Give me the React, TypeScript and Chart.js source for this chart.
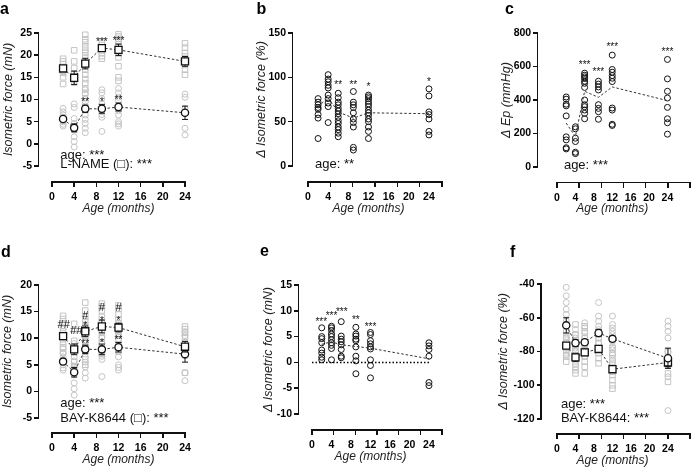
import React, { useEffect, useRef } from 'react';
import { Chart, registerables } from 'chart.js';

Chart.register(...registerables);

const FONT = "'Liberation Sans', Arial, Helvetica, sans-serif";
const GREY = '#c4c4c4';
const INK = '#111111';

// ---------- shared categories ----------
const AGES = [2, 4, 6, 9, 12, 24];
const X_TICKS = [0, 4, 8, 12, 16, 20, 24];
const X_TITLE = 'Age (months)';

// ---------- control group (circles) shared by a and d ----------
const CTRL_MEAN = [5.6, 3.6, 7.9, 7.9, 8.3, 7.0];
const CTRL_SEM = [0.5, 0.9, 0.8, 1.0, 0.9, 1.5];
const CTRL_POINTS = [
  [8.0, 7.2, 6.5, 6.0, 5.0, 4.4, 4.0],
  [9.0, 8.2, 5.7, 4.6, 3.1, 1.6, 0.5, -0.7],
  [12.2, 11.3, 10.3, 9.5, 8.5, 7.6, 6.5, 5.5, 4.6, 3.5, 2.5],
  [12.2, 11.5, 10.2, 9.0, 8.1, 7.3, 6.6, 6.0, 2.8],
  [12.5, 11.5, 10.5, 9.8, 8.5, 7.5, 6.5, 5.0, 4.5, 4.0],
  [11.2, 10.5, 8.0, 3.5, 2.0],
];

// ---------- panel a ----------
const A_Y_TICKS = [-5, 0, 5, 10, 15, 20, 25];
const A_LNAME_MEAN = [17.0, 14.9, 18.1, 21.6, 21.2, 18.6];
const A_LNAME_SEM = [0.6, 1.5, 1.2, 0.5, 1.3, 1.1];
const A_LNAME_POINTS = [
  [19.2, 18.6, 18.0, 17.2, 16.5, 16.0, 15.0, 13.5],
  [21.1, 18.6, 17.1, 15.8, 14.5, 13.8],
  [24.6, 23.6, 22.9, 22.0, 21.2, 20.5, 19.6, 18.6, 17.6, 16.7, 15.6, 14.6, 13.7, 12.5, 11.5],
  [23.0, 22.3, 21.5, 20.5, 19.8, 19.2],
  [24.7, 24.2, 23.7, 23.2, 22.5, 21.8, 20.5, 19.5, 17.5, 15.0, 14.2],
  [22.7, 21.7, 20.5, 19.7, 18.5, 17.8, 16.7, 15.6],
];
const A_NOTES = [
  { x: 9, y: 23.7, t: '***' },
  { x: 12, y: 23.9, t: '***' },
  { x: 6, y: 10.1, t: '**' },
  { x: 9, y: 10.1, t: '*' },
  { x: 12, y: 10.5, t: '**' },
];
const A_STATS = [
  { x: 1.5, y: -2.4, t: 'age: ***' },
  { x: 1.5, y: -4.6, t: 'L-NAME (\u25A1): ***' },
];

// ---------- panel b ----------
const B_Y_TICKS = [0, 50, 100, 150];
const B_MEAN = [67, 77, 61, 54, 60, 59];
const B_POINTS = [
  [76, 72, 69, 66, 64, 58, 54, 31],
  [103, 98, 95, 91, 88, 80, 76, 71, 67, 49],
  [82, 77, 72, 69, 65, 62, 59, 55, 51, 48, 44, 41, 37, 33],
  [84, 72, 69, 66, 60, 53, 49, 44, 21, 18],
  [80, 78, 76, 73, 70, 67, 63, 60, 57, 53, 50, 44, 39, 31],
  [87, 79, 61, 58, 53, 39, 35],
];
const B_NOTES = [
  { x: 6, y: 94, t: '**' },
  { x: 9, y: 94, t: '**' },
  { x: 12, y: 92, t: '*' },
  { x: 24, y: 98, t: '*' },
];
const B_STATS = [{ x: 1.4, y: 3, t: 'age: **' }];

// ---------- panel c ----------
const C_Y_TICKS = [0, 200, 400, 600, 800];
const C_MEAN = [262, 182, 452, 416, 478, 396];
const C_POINTS = [
  [418, 405, 375, 365, 305, 180, 162, 115, 108],
  [240, 228, 172, 152, 88, 80],
  [560, 548, 538, 528, 512, 500, 475, 400, 372, 360, 340, 320, 288],
  [512, 495, 478, 460, 372, 350, 330, 285],
  [668, 582, 566, 546, 530, 510, 352, 340, 255, 248],
  [642, 526, 452, 412, 356, 288, 264, 196],
];
const C_NOTES = [
  { x: 6, y: 626, t: '***' },
  { x: 9, y: 584, t: '***' },
  { x: 12, y: 734, t: '***' },
  { x: 24, y: 706, t: '***' },
];
const C_STATS = [{ x: 1.5, y: 16, t: 'age: ***' }];

// ---------- panel d ----------
const D_Y_TICKS = [-5, 0, 5, 10, 15, 20];
const D_BAY_MEAN = [10.4, 7.9, 11.3, 12.2, 12.0, 8.4];
const D_BAY_SEM = [0.5, 1.0, 1.0, 1.2, 0.8, 1.0];
const D_BAY_POINTS = [
  [14.2, 13.6, 12.8, 12.0, 11.3, 10.6, 9.8, 9.0, 8.3, 7.3],
  [12.7, 11.5, 9.5, 8.5, 7.5, 6.5, 5.5, 4.8, 4.2],
  [16.7, 15.2, 14.0, 13.2, 12.5, 12.0, 11.2, 10.5, 9.5, 8.5, 7.5, 6.0, 5.0],
  [16.5, 16.0, 15.2, 14.0, 13.0, 12.0, 11.0, 10.0, 9.0, 8.0, 7.0],
  [16.2, 15.5, 14.5, 13.5, 12.8, 12.0, 11.2, 10.5, 9.5, 8.8, 7.5],
  [12.2, 11.7, 11.0, 10.2, 9.2, 8.2, 7.5, 6.8, 3.5],
];
const D_NOTES = [
  { x: 2.1, y: 12.7, t: '##' },
  { x: 4.4, y: 11.5, t: '##' },
  { x: 6, y: 14.4, t: '#' },
  { x: 6, y: 12.8, t: '*' },
  { x: 6, y: 9.4, t: '**' },
  { x: 9, y: 15.8, t: '#' },
  { x: 9, y: 13.75, t: '*' },
  { x: 9, y: 9.6, t: '*' },
  { x: 12, y: 15.8, t: '#' },
  { x: 12, y: 13.75, t: '*' },
  { x: 12, y: 10.1, t: '**' },
];
const D_STATS = [
  { x: 1.5, y: -2.2, t: 'age: ***' },
  { x: 1.5, y: -4.9, t: 'BAY-K8644 (\u25A1): ***' },
];

// ---------- panel e ----------
const E_Y_TICKS = [-10, -5, 0, 5, 10, 15];
const E_MEAN = [3.5, 4.0, 3.4, 3.1, 2.75, 0.7];
const E_POINTS = [
  [6.7, 5.0, 4.6, 3.8, 2.4, 1.8, 1.0, 0.5],
  [7.0, 6.7, 6.2, 5.5, 5.0, 4.4, 3.8, 3.3, 2.7, 0.5],
  [7.9, 5.1, 4.5, 4.0, 3.4, 2.5, 1.2, 0.9],
  [6.8, 5.5, 5.1, 4.5, 4.2, 3.0, 1.2, 0.3, -2.2],
  [5.8, 5.4, 4.2, 3.6, 3.0, 2.6, 0.5, -0.6, -3.0],
  [3.8, 3.2, 2.5, 1.2, -3.9, -4.5],
];
const E_NOTES = [
  { x: 1.9, y: 8.4, t: '***' },
  { x: 4.0, y: 9.5, t: '***' },
  { x: 6.1, y: 10.3, t: '***' },
  { x: 9, y: 8.8, t: '**' },
  { x: 12, y: 7.5, t: '***' },
];

// ---------- panel f ----------
const F_Y_TICKS = [-120, -100, -80, -60, -40];
const F_CTRL_MEAN = [-64.5, -75, -74.5, -69, -72.5, -84];
const F_CTRL_SEM = [4.5, 2, 1.5, 2, 1.5, 6];
const F_BAY_MEAN = [-76.5, -83.5, -80.5, -78.5, -90.5, -86.5];
const F_BAY_SEM = [1.5, 2.5, 2, 1.5, 1.5, 2.5];
const F_CTRL_POINTS = [
  [-42, -47, -51, -55, -58, -62, -65, -68, -72, -75, -78, -82],
  [-67, -70, -72, -74, -76, -78, -80, -83],
  [-63, -66, -69, -72, -74, -76, -78, -80, -83],
  [-51, -59, -62, -65, -67, -70, -72, -75, -78],
  [-59, -64, -66, -68, -70, -72, -74, -77, -79, -82],
  [-62, -65, -68, -72, -80, -95, -115],
];
const F_BAY_POINTS = [
  [-68, -71, -73, -75, -77, -79, -81, -83, -86],
  [-64, -70, -76, -80, -84, -87, -89, -91, -93],
  [-65, -68, -72, -76, -80, -83, -86, -89, -93],
  [-68, -72, -75, -78, -81, -84, -87],
  [-78, -81, -84, -86, -88, -90, -92, -94, -97, -100, -102],
  [-80, -84, -88, -93, -98],
];
const F_STATS = [
  { x: 0.85, y: -111, t: 'age: ***' },
  { x: 0.85, y: -119, t: 'BAY-K8644: ***' },
];

// ---------- dataset builders ----------
const toPoints = (cols: number[][]) =>
  cols.flatMap((col, i) => col.map((v) => ({ x: AGES[i], y: v })));

const greySet = (cols: number[][], style: string) => ({
  type: 'scatter', data: toPoints(cols), pointStyle: style,
  pointRadius: style === 'rect' ? 3.9 : 3, pointBorderColor: GREY,
  pointBackgroundColor: 'rgba(255,255,255,0)', pointBorderWidth: 1, clip: false, order: 3,
});
const dotSet = (cols: number[][]) => ({
  type: 'scatter', data: toPoints(cols), pointStyle: 'circle', pointRadius: 3,
  pointBorderColor: INK, pointBackgroundColor: 'rgba(255,255,255,0)', pointBorderWidth: 1, clip: false, order: 3,
});
const meanSet = (m: number[], style: string, markers: boolean) => ({
  type: 'line', data: AGES.map((a, i) => ({ x: a, y: m[i] })), borderColor: '#333', borderWidth: 1,
  borderDash: [2.5, 2], pointStyle: style, pointRadius: markers ? (style === 'rect' ? 5 : 3.6) : 0,
  pointBorderColor: INK, pointBackgroundColor: '#fff', pointBorderWidth: 1.3, clip: false, order: 1,
});
const zeroSet = () => ({
  type: 'line', data: [{ x: X_TICKS[0], y: 0 }, { x: X_TICKS[X_TICKS.length - 1], y: 0 }],
  borderColor: '#000', borderWidth: 1.5, borderDash: [1.5, 2], pointRadius: 0, clip: false, order: 2,
});

type Note = { x: number; y: number; t: string };
type Cfg = {
  letter: string; lx: number; ly: number;
  box: number[]; area: number[];
  yAxisX: number; xAxisY: number; yTitleX: number;
  yTicks: number[]; yTitle: string;
  make: () => any[];
  errBars: { ds: number; err: number[] }[];
  notes: Note[]; stats: Note[];
};

const PANELS: Cfg[] = [
  {
    letter: 'a', lx: 0, ly: 14,
    box: [0, 0, 230, 230], area: [52, 33, 185, 166],
    yAxisX: 38.5, xAxisY: 182, yTitleX: 8.3,
    yTicks: A_Y_TICKS, yTitle: 'Isometric force (mN)',
    make: () => [greySet(A_LNAME_POINTS, 'rect'), greySet(CTRL_POINTS, 'circle'), meanSet(A_LNAME_MEAN, 'rect', true), meanSet(CTRL_MEAN, 'circle', true)],
    errBars: [{ ds: 2, err: A_LNAME_SEM }, { ds: 3, err: CTRL_SEM }],
    notes: A_NOTES, stats: A_STATS,
  },
  {
    letter: 'b', lx: 256.5, ly: 14,
    box: [230, 0, 230, 230], area: [308, 33, 442, 166],
    yAxisX: 292.5, xAxisY: 182, yTitleX: 261.7,
    yTicks: B_Y_TICKS, yTitle: '\u0394 Isometric force (%)',
    make: () => [dotSet(B_POINTS), meanSet(B_MEAN, 'circle', false)],
    errBars: [], notes: B_NOTES, stats: B_STATS,
  },
  {
    letter: 'c', lx: 505, ly: 14,
    box: [460, 0, 238, 230], area: [557, 33, 690, 167],
    yAxisX: 537.7, xAxisY: 182.5, yTitleX: 507,
    yTicks: C_Y_TICKS, yTitle: '\u0394 Ep (mmHg)',
    make: () => [dotSet(C_POINTS), meanSet(C_MEAN, 'circle', false)],
    errBars: [], notes: C_NOTES, stats: C_STATS,
  },
  {
    letter: 'd', lx: 1, ly: 256.5,
    box: [0, 230, 230, 243], area: [52, 285, 185, 418],
    yAxisX: 38.5, xAxisY: 433, yTitleX: 8,
    yTicks: D_Y_TICKS, yTitle: 'Isometric force (mN)',
    make: () => [greySet(D_BAY_POINTS, 'rect'), greySet(CTRL_POINTS, 'circle'), meanSet(D_BAY_MEAN, 'rect', true), meanSet(CTRL_MEAN, 'circle', true)],
    errBars: [{ ds: 2, err: D_BAY_SEM }, { ds: 3, err: CTRL_SEM }],
    notes: D_NOTES, stats: D_STATS,
  },
  {
    letter: 'e', lx: 260, ly: 256,
    box: [230, 230, 230, 243], area: [312, 285, 442, 414],
    yAxisX: 298.5, xAxisY: 430, yTitleX: 268.3,
    yTicks: E_Y_TICKS, yTitle: '\u0394 Isometric force (mN)',
    make: () => [zeroSet(), dotSet(E_POINTS), meanSet(E_MEAN, 'circle', false)],
    errBars: [], notes: E_NOTES, stats: [],
  },
  {
    letter: 'f', lx: 510, ly: 256.5,
    box: [460, 230, 238, 243], area: [557, 284, 690, 419],
    yAxisX: 541, xAxisY: 434, yTitleX: 503.5,
    yTicks: F_Y_TICKS, yTitle: '\u0394 Isometric force (%)',
    make: () => [greySet(F_CTRL_POINTS, 'circle'), greySet(F_BAY_POINTS, 'rect'), meanSet(F_CTRL_MEAN, 'circle', true), meanSet(F_BAY_MEAN, 'rect', true)],
    errBars: [{ ds: 2, err: F_CTRL_SEM }, { ds: 3, err: F_BAY_SEM }],
    notes: [], stats: F_STATS,
  },
];

const TICK_SIZE = 10.5;
const TICK_LEN = 4.5;
const AXIS_W = 1.6;

function build(canvas: HTMLCanvasElement, c: Cfg) {
  const L = c.box[0];
  const T = c.box[1];
  const W = c.box[2];
  const H = c.box[3];
  const cl = c.area[0];
  const ct = c.area[1];
  const cr = c.area[2];
  const cb = c.area[3];
  const plugin = {
    id: 'decor',
    beforeDatasetDraw(chart: any, args: any) {
      const eb = c.errBars.find((e) => e.ds === args.index);
      if (!eb) return;
      const ctx = chart.ctx;
      const ys = chart.scales.y;
      const data = chart.data.datasets[args.index].data;
      ctx.save();
      ctx.strokeStyle = INK;
      ctx.lineWidth = 1;
      args.meta.data.forEach((el: any, i: number) => {
        const t = ys.getPixelForValue(data[i].y + eb.err[i]);
        const b = ys.getPixelForValue(data[i].y - eb.err[i]);
        ctx.beginPath();
        ctx.moveTo(el.x, t);
        ctx.lineTo(el.x, b);
        ctx.moveTo(el.x - 3, t);
        ctx.lineTo(el.x + 3, t);
        ctx.moveTo(el.x - 3, b);
        ctx.lineTo(el.x + 3, b);
        ctx.stroke();
      });
      ctx.restore();
    },
    afterDatasetsDraw(chart: any) {
      const ctx = chart.ctx;
      const xs = chart.scales.x;
      const ys = chart.scales.y;
      ctx.save();
      ctx.fillStyle = INK;
      ctx.textBaseline = 'alphabetic';
      ctx.textAlign = 'center';
      c.notes.forEach((n) => {
        const size = n.t.indexOf('#') >= 0 ? 11 : 10;
        const off = n.t.indexOf('#') >= 0 ? 0.36 : 0.58;
        ctx.font = size + 'px ' + FONT;
        ctx.fillText(n.t, xs.getPixelForValue(n.x), ys.getPixelForValue(n.y) + off * size);
      });
      ctx.textAlign = 'left';
      ctx.font = '13px ' + FONT;
      c.stats.forEach((n) => {
        ctx.fillText(n.t, xs.getPixelForValue(n.x), ys.getPixelForValue(n.y) + 4.2);
      });
      ctx.font = 'bold 16px ' + FONT;
      ctx.fillStyle = '#000';
      ctx.fillText(c.letter, c.lx - L, c.ly - T);
      ctx.restore();
    },
  };
  return new Chart(canvas, {
    type: 'scatter',
    data: { datasets: c.make() },
    options: {
      responsive: false,
      animation: false,
      devicePixelRatio: 1,
      events: [],
      layout: { autoPadding: false, padding: { left: 0, top: ct - T, right: L + W - cr, bottom: 0 } },
      plugins: { legend: { display: false } },
      scales: {
        x: {
          min: X_TICKS[0],
          max: X_TICKS[X_TICKS.length - 1],
          afterBuildTicks: (s: any) => { s.ticks = X_TICKS.map((v) => ({ value: v })); },
          afterFit: (s: any) => { s.height = T + H - cb; },
          grid: { display: false, drawTicks: false },
          border: { display: false },
          ticks: {
            color: '#000',
            font: { family: FONT, size: TICK_SIZE, weight: 'bold' },
            padding: c.xAxisY + 15.5 - cb - TICK_SIZE * 0.6,
          },
          title: {
            display: true,
            text: X_TITLE,
            color: '#222',
            font: { family: FONT, size: 12, style: 'italic' },
            padding: { top: 0, bottom: T + H - (c.xAxisY + 26.5) - 7.2 },
          },
        },
        y: {
          min: c.yTicks[0],
          max: c.yTicks[c.yTicks.length - 1],
          afterBuildTicks: (s: any) => { s.ticks = c.yTicks.map((v) => ({ value: v })); },
          afterFit: (s: any) => { s.width = cl - L; },
          grid: { display: false, drawTicks: false },
          border: { display: false },
          ticks: {
            autoSkip: false,
            color: '#000',
            font: { family: FONT, size: TICK_SIZE, weight: 'bold' },
            padding: cl - c.yAxisX + TICK_LEN + 2,
          },
          title: {
            display: true,
            text: c.yTitle,
            color: '#222',
            font: { family: FONT, size: 12.5, style: 'italic' },
            padding: { top: c.yTitleX - L - 7.5, bottom: 0 },
          },
        },
      },
    } as any,
    plugins: [plugin],
  });
}

// offset (GraphPad-style) axis lines and tick marks, placed from each panel's tick arrays
function Axes({ c }: { c: Cfg }) {
  const [cl, ct, cr, cb] = c.area;
  const yMin = c.yTicks[0];
  const yMax = c.yTicks[c.yTicks.length - 1];
  const xMin = X_TICKS[0];
  const xMax = X_TICKS[X_TICKS.length - 1];
  const py = (v: number) => ct + ((yMax - v) / (yMax - yMin)) * (cb - ct);
  const px = (v: number) => cl + ((v - xMin) / (xMax - xMin)) * (cr - cl);
  const bar = (left: number, top: number, width: number, height: number, key: string) => (
    <div key={key} style={{ position: 'absolute', left, top, width, height, background: INK }} />
  );
  const h = AXIS_W / 2;
  return (
    <>
      {bar(c.yAxisX - h, ct - h, AXIS_W, cb - ct + AXIS_W, 'yl')}
      {c.yTicks.map((v) => bar(c.yAxisX - TICK_LEN, py(v) - h, TICK_LEN, AXIS_W, 'yt' + v))}
      {bar(cl - h, c.xAxisY - h, cr - cl + AXIS_W, AXIS_W, 'xl')}
      {X_TICKS.map((v) => bar(px(v) - h, c.xAxisY, AXIS_W, TICK_LEN + 0.5, 'xt' + v))}
    </>
  );
}

export default function App() {
  const refs = useRef<(HTMLCanvasElement | null)[]>([]);
  useEffect(() => {
    const charts = PANELS.map((p, i) => build(refs.current[i] as HTMLCanvasElement, p));
    return () => charts.forEach((ch) => ch.destroy());
  }, []);
  return (
    <div style={{ position: 'absolute', left: 0, top: 0, width: 698, height: 473, background: '#fff' }}>
      {PANELS.map((p, i) => (
        <canvas
          key={p.letter}
          ref={(el) => { refs.current[i] = el; }}
          width={p.box[2]}
          height={p.box[3]}
          style={{ position: 'absolute', left: p.box[0], top: p.box[1] }}
        />
      ))}
      {PANELS.map((p) => (
        <Axes key={'ax' + p.letter} c={p} />
      ))}
    </div>
  );
}
